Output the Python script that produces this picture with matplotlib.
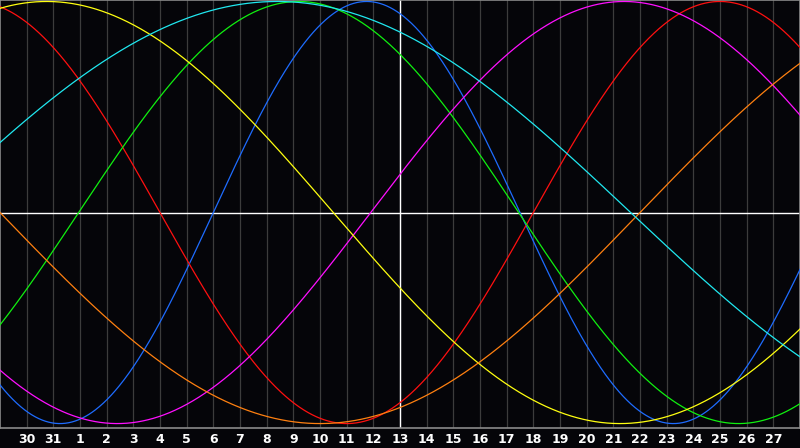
import numpy as np
import matplotlib
matplotlib.use("Agg")
import matplotlib.pyplot as plt

# ---- data ----
day_labels = ["30", "31"] + [str(d) for d in range(1, 28)]   # tick labels at positions 1..29
cycle_periods = [23, 28, 33, 38, 43, 48, 53]                  # days per cycle
cycle_peaks = [13.75, 27.0, 11.2, 23.4, 1.75, -12.0, 10.4]     # position (in day slots) of a crest
cycle_colors = ["#1e6cff", "#ff1010", "#10f010", "#ff10ff", "#ffff10", "#ff8010", "#20e8f0"]
today_pos = 15            # slot of "today" (day 13)
n_slots = 30

BG = "#050509"
fig = plt.figure(figsize=(8.0, 4.48), dpi=100, facecolor=BG)
ax = fig.add_axes([0.0, 20 / 448, 1.0, 428 / 448], facecolor=BG)

x = np.linspace(0, n_slots, 1200)
tick_pos = np.arange(1, len(day_labels) + 1)

for p in tick_pos:
    ax.axvline(p, color="#3c3c3c", lw=0.9, zorder=1)

ax.axhline(0, color="white", lw=1.0, zorder=2)
ax.axvline(today_pos, color="white", lw=1.0, zorder=2)

for per, pk, col in zip(cycle_periods, cycle_peaks, cycle_colors):
    y = np.cos(2 * np.pi * (x - pk) / per)
    ax.plot(x, y, color=col, lw=0.9, zorder=3)

ax.set_xlim(0, n_slots)
ax.set_ylim(-1.021, 1.007)
ax.set_xticks(tick_pos)
ax.set_xticklabels(day_labels, color="white", fontsize=9, fontweight="bold")
ax.tick_params(axis="x", length=0, pad=3.5)
ax.set_yticks([])
for s in ax.spines.values():
    s.set_color("#8a8a8a")
    s.set_linewidth(1.2)

fig.savefig("out.png", dpi=100, facecolor=BG)
